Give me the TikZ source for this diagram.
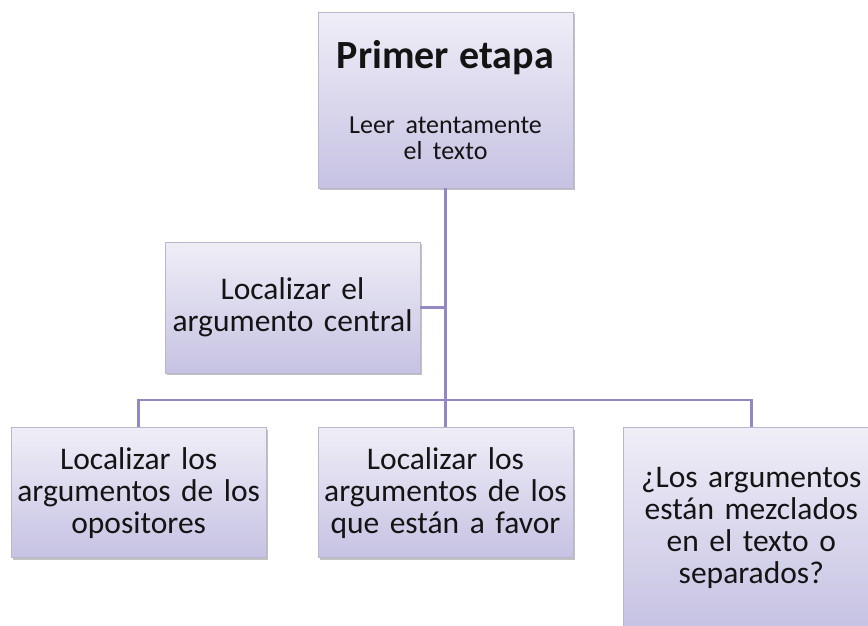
\documentclass[tikz,border=0pt]{standalone}
\usepackage{fontspec}
\setmainfont{Carlito}[WordSpace=0.8]
\usetikzlibrary{positioning,shadows}

\definecolor{boxtop}{HTML}{EFEEF7}
\definecolor{boxbot}{HTML}{C6C2E3}
\definecolor{boxline}{HTML}{B9B6CE}
\definecolor{linkcol}{HTML}{9587C3}
\definecolor{txtcol}{HTML}{141414}

\tikzset{
  stagebox/.style={rectangle, draw=boxline, line width=0.8pt,
    top color=boxtop, bottom color=boxbot,
    minimum width=255pt, minimum height=130pt, text width=253pt,
    align=center, inner sep=0pt, text=txtcol,
    font=\fontsize{31.5}{32}\selectfont,
    drop shadow={shadow xshift=1.5pt, shadow yshift=-2pt, opacity=0.35, fill=black!70}},
  link/.style={draw=linkcol, line width=2.6pt}
}

\begin{document}
\begin{tikzpicture}[x=1pt, y=-1pt]
    \useasboundingbox (0,0) rectangle (868,625);
    \clip (0,0) rectangle (868,625);

    \node [stagebox, minimum height=176pt] (top) at (445.5,100)
      {\fontsize{40}{40}\selectfont\bfseries Primer etapa\par\vspace{40pt}%
       \fontsize{26}{25}\selectfont\mdseries Leer atentamente\\[-6pt]el texto};
    \node [stagebox, minimum height=131pt] (mid) at (292.5,307.5) {Localizar el\\argumento central};

    \node [stagebox, below=239pt of top] (b2) {Localizar los\\argumentos de los\\que están a favor};
    \node [stagebox, left=51pt of b2] (b1) {Localizar los\\argumentos de los\\opositores};
    \node [stagebox, minimum height=200pt, right=50pt of b2.north east, anchor=north west] (b3)
      {¿Los argumentos\\están mezclados\\en el texto o\\separados?};

    \coordinate (barlevel) at (0,400);
    \coordinate (hub) at (top.south |- barlevel);
    \coordinate (midjoin) at (mid.east -| top.south);

    \draw [link] (top.south) -- (b2.north);
    \draw [link] (mid.east) -- (midjoin);
    \draw [link] (b1.north) |- (hub) -| (b3.north);
\end{tikzpicture}
\end{document}
